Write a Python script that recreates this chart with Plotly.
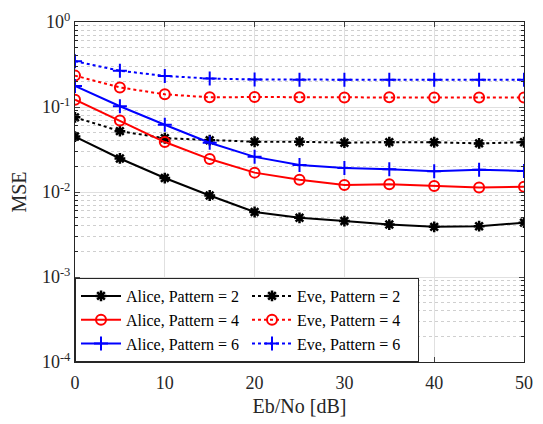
import plotly.graph_objects as go

x = [0, 5, 10, 15, 20, 25, 30, 35, 40, 45, 50]

alice_p2 = [0.0449, 0.0248, 0.0146, 0.0091, 0.00582, 0.00497, 0.00455, 0.00414, 0.00389, 0.00396, 0.00436]
eve_p2 = [0.0755, 0.052, 0.0429, 0.0407, 0.039, 0.039, 0.038, 0.0386, 0.0385, 0.0373, 0.0385]
alice_p4 = [0.122, 0.0692, 0.0387, 0.0244, 0.0169, 0.0139, 0.0121, 0.0123, 0.0118, 0.0113, 0.0115]
eve_p4 = [0.234, 0.170, 0.141, 0.130, 0.131, 0.130, 0.129, 0.130, 0.129, 0.129, 0.129]
alice_p6 = [0.177, 0.102, 0.0618, 0.038, 0.0259, 0.0208, 0.0191, 0.0185, 0.0175, 0.0183, 0.0177]
eve_p6 = [0.346, 0.267, 0.232, 0.216, 0.211, 0.209, 0.209, 0.209, 0.209, 0.209, 0.209]

names = ["Alice, Pattern = 2", "Eve, Pattern = 2",
         "Alice, Pattern = 4", "Eve, Pattern = 4",
         "Alice, Pattern = 6", "Eve, Pattern = 6"]

x_ticks = [0, 10, 20, 30, 40, 50]
y_ticks = [1e-4, 1e-3, 1e-2, 1e-1, 1e0]
y_ticktext = ["10<sup>-4</sup>", "10<sup>-3</sup>", "10<sup>-2</sup>", "10<sup>-1</sup>", "10<sup>0</sup>"]
y_minor = [m * 10.0 ** e for e in range(-4, 0) for m in range(2, 10)]

series = [alice_p2, eve_p2, alice_p4, eve_p4, alice_p6, eve_p6]
colors = ["black", "black", "red", "red", "blue", "blue"]
dashes = ["solid", "dot", "solid", "dot", "solid", "dot"]
symbols = ["asterisk-open", "asterisk-open", "circle-open", "circle-open", "cross-thin-open", "cross-thin-open"]
msizes = [9, 9, 10, 10, 10, 10]
mwidths = [2.5, 2.5, 2, 2, 2, 2]

fig = go.Figure()
for y, n, c, d, s, ms, mw in zip(series, names, colors, dashes, symbols, msizes, mwidths):
    fig.add_trace(go.Scatter(
        x=x, y=y, name=n, mode="lines+markers",
        line=dict(color=c, width=2, dash=d),
        marker=dict(symbol=s, size=ms, color=c, line=dict(color=c, width=mw)),
    ))

font_family = "Liberation Serif"
fig.update_layout(
    width=543, height=424,
    margin=dict(l=75, r=11, t=10, b=61),
    paper_bgcolor="white", plot_bgcolor="white",
    font=dict(family=font_family, size=16, color="#262626"),
    showlegend=True,
    legend=dict(
        x=0, y=0, xanchor="left", yanchor="bottom",
        orientation="h", entrywidth=116, itemwidth=40,
        bgcolor="white", bordercolor="#262626", borderwidth=1,
        font=dict(family=font_family, size=16, color="black"),
        tracegroupgap=0,
    ),
    xaxis=dict(
        range=[0, 50], tickvals=x_ticks, ticks="inside", ticklen=5,
        showline=True, linecolor="#262626", linewidth=1, mirror="ticks",
        showgrid=True, gridcolor="#e0e0e0", gridwidth=1, zeroline=False,
        title=dict(text="Eb/No [dB]", font=dict(size=20), standoff=7),
        tickfont=dict(size=18), ticklabelstandoff=4,
    ),
    yaxis=dict(
        type="log", range=[-4, 0], tickvals=y_ticks, ticktext=y_ticktext,
        ticks="inside", ticklen=5, ticklabeloverflow="allow",
        showline=True, linecolor="#262626", linewidth=1, mirror="ticks",
        showgrid=True, gridcolor="#e0e0e0", gridwidth=1, zeroline=False,
        minor=dict(tickvals=y_minor, ticks="inside", ticklen=3, tickcolor="#262626",
                   showgrid=True, gridcolor="#cfcfcf", griddash="dot", gridwidth=1),
        title=dict(text="MSE", font=dict(size=20), standoff=9),
        tickfont=dict(size=18),
    ),
)

fig.write_html("out.html", config={"displayModeBar": False},
               post_script="document.body.style.margin='0';")
